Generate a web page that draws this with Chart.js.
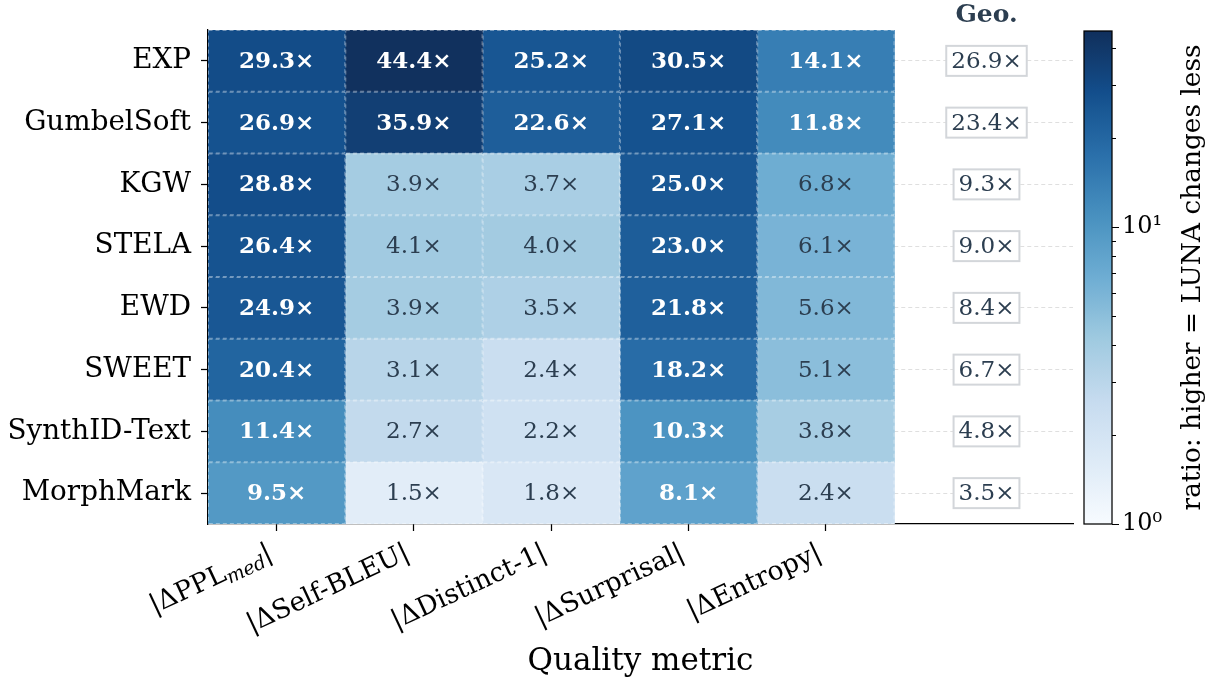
<!DOCTYPE html>
<html>
<head>
<meta charset="utf-8">
<script src="https://cdn.jsdelivr.net/npm/chart.js@4.4.1/dist/chart.umd.min.js"></script>
<style>
  html, body { margin: 0; padding: 0; background: #ffffff; width: 1215px; height: 686px; overflow: hidden; }
  #main { position: absolute; left: 0; top: 0; }
  #cbar { position: absolute; left: 1075px; top: 0; }
</style>
</head>
<body>
<canvas id="main" width="1215" height="686"></canvas>
<canvas id="cbar" width="140" height="686"></canvas>
<script>
// Watermark methods (rows) and quality metrics (columns)
const methods = ['EXP', 'GumbelSoft', 'KGW', 'STELA', 'EWD', 'SWEET', 'SynthID-Text', 'MorphMark'];
const metricLabels = [
  [{ t: '|ΔPPL' }, { t: 'med', sub: true }, { t: '|' }],
  [{ t: '|ΔSelf-BLEU|' }],
  [{ t: '|ΔDistinct-1|' }],
  [{ t: '|ΔSurprisal|' }],
  [{ t: '|ΔEntropy|' }]
];

// Ratio per metric, one value per method
const pplMed    = [29.3, 26.9, 28.8, 26.4, 24.9, 20.4, 11.4, 9.5];
const selfBleu  = [44.4, 35.9, 3.9, 4.1, 3.9, 3.1, 2.7, 1.5];
const distinct1 = [25.2, 22.6, 3.7, 4.0, 3.5, 2.4, 2.2, 1.8];
const surprisal = [30.5, 27.1, 25.0, 23.0, 21.8, 18.2, 10.3, 8.1];
const entropy   = [14.1, 11.8, 6.8, 6.1, 5.6, 5.1, 3.8, 2.4];
const geoMean   = [26.9, 23.4, 9.3, 9.0, 8.4, 6.7, 4.8, 3.5];

// Colour scale (log) and colorbar ticks
const colorMin = 1;
const colorMax = 45.7;
const colorbarTicks = [1, 2, 3, 4, 5, 6, 7, 8, 9, 10, 20, 30, 40];

const columns = [pplMed, selfBleu, distinct1, surprisal, entropy];
const geoColumnX = 5.17;
const boldAbove = 7.5;

const SERIF = "'DejaVu Serif', serif";
const DARK_TEXT = '#2c3e50';
const GRID = 'rgba(176,176,176,0.4)';

// matplotlib "Blues", darker end slightly muted
const blues = ['#f7fbff', '#deebf7', '#c6dbef', '#9ecae1', '#6baed6', '#4292c6', '#2171b5', '#08519c', '#08306b'];
function hexRgb(h) { return [1, 3, 5].map(i => parseInt(h.substr(i, 2), 16)); }
const bluesRgb = blues.map(hexRgb);
const MUTE = 0.24;
function bluesAt(t) {
  t = Math.max(0, Math.min(1, t));
  const p = t * (bluesRgb.length - 1);
  const i = Math.min(Math.floor(p), bluesRgb.length - 2);
  const f = p - i;
  const a = bluesRgb[i], b = bluesRgb[i + 1];
  const c = a.map((v, k) => v + (b[k] - v) * f);
  const lum = 0.3 * c[0] + 0.59 * c[1] + 0.11 * c[2];
  const mu = MUTE * t * t;
  const m = c.map(v => Math.round(v * (1 - mu) + lum * mu));
  return `rgb(${m[0]},${m[1]},${m[2]})`;
}
function norm(v) { return Math.log(v / colorMin) / Math.log(colorMax / colorMin); }

const datasets = columns.map((vals, c) => ({
  label: 'col' + c,
  data: vals.map(() => [c - 0.5, c + 0.5]),
  values: vals,
  backgroundColor: vals.map(v => bluesAt(norm(v))),
  borderWidth: 0,
  barPercentage: 1,
  categoryPercentage: 1,
  grouped: false
}));

// Cell edges, value labels, geo-mean column and rotated metric labels
const heatmapDecor = {
  id: 'heatmapDecor',
  afterDatasetsDraw(chart) {
    const ctx = chart.ctx;
    ctx.save();
    chart.data.datasets.forEach((ds, di) => {
      const meta = chart.getDatasetMeta(di);
      meta.data.forEach(el => {
        const p = el.getProps(['x', 'y', 'base', 'height'], true);
        const left = Math.min(p.x, p.base), w = Math.abs(p.x - p.base);
        ctx.strokeStyle = 'rgba(255,255,255,0.4)';
        ctx.lineWidth = 1;
        ctx.setLineDash([4, 3]);
        ctx.strokeRect(left + 0.5, p.y - p.height / 2 + 0.5, w - 1, p.height - 1);
      });
    });
    ctx.setLineDash([]);
    chart.data.datasets.forEach((ds, di) => {
      const meta = chart.getDatasetMeta(di);
      meta.data.forEach((el, ri) => {
        const p = el.getProps(['x', 'y', 'base'], true);
        const v = ds.values[ri];
        const strong = v >= boldAbove;
        ctx.font = (strong ? 'bold ' : '') + '23px ' + SERIF;
        ctx.fillStyle = strong ? '#ffffff' : DARK_TEXT;
        ctx.textAlign = 'center';
        ctx.textBaseline = 'middle';
        ctx.fillText(v.toFixed(1) + '×', (p.x + p.base) / 2, p.y + 1);
      });
    });
    ctx.restore();
  },
  afterDraw(chart) {
    const ctx = chart.ctx;
    const xs = chart.scales.x, ys = chart.scales.y;
    const area = chart.chartArea;
    ctx.save();
    // geo-mean column
    const gx = xs.getPixelForValue(geoColumnX);
    ctx.font = 'bold 25px ' + SERIF;
    ctx.fillStyle = DARK_TEXT;
    ctx.textAlign = 'center';
    ctx.textBaseline = 'middle';
    ctx.fillText('Geo.', gx, 15);
    ctx.font = '23px ' + SERIF;
    geoMean.forEach((v, i) => {
      const y = ys.getPixelForValue(i);
      const txt = v.toFixed(1) + '×';
      const w = ctx.measureText(txt).width + 10;
      const h = 30;
      ctx.fillStyle = '#ffffff';
      ctx.fillRect(gx - w / 2, y - h / 2, w, h);
      ctx.strokeStyle = '#d3d6da';
      ctx.lineWidth = 2;
      ctx.strokeRect(gx - w / 2, y - h / 2, w, h);
      ctx.fillStyle = DARK_TEXT;
      ctx.fillText(txt, gx, y + 1);
    });
    // rotated metric labels
    const size = 26.5;
    const ang = 25 * Math.PI / 180;
    metricLabels.forEach((parts, i) => {
      const tx = xs.getPixelForValue(i);
      const pieces = parts.map(pt => {
        const f = pt.sub ? `italic ${Math.round(size * 0.7)}px ${SERIF}` : `${size}px ${SERIF}`;
        ctx.font = f;
        return { t: pt.t, f, sub: pt.sub, w: ctx.measureText(pt.t).width };
      });
      const total = pieces.reduce((s, p) => s + p.w, 0);
      ctx.save();
      ctx.translate(tx - 12, area.bottom + 15);
      ctx.rotate(-ang);
      ctx.fillStyle = '#000';
      ctx.textAlign = 'left';
      ctx.textBaseline = 'alphabetic';
      let x = -total;
      const base = size * 0.8;
      pieces.forEach(p => {
        ctx.font = p.f;
        ctx.fillText(p.t, x, base + (p.sub ? size * 0.18 : 0));
        x += p.w;
      });
      ctx.restore();
    });
    // axis title
    ctx.font = '31px ' + SERIF;
    ctx.fillStyle = '#000';
    ctx.textAlign = 'center';
    ctx.textBaseline = 'middle';
    ctx.fillText('Quality metric', (area.left + area.right) / 2, 662);
    ctx.restore();
  }
};

new Chart(document.getElementById('main'), {
  type: 'bar',
  data: { labels: methods, datasets },
  options: {
    indexAxis: 'y',
    responsive: false,
    animation: false,
    devicePixelRatio: 1,
    layout: { padding: { left: 0, top: 30, right: 142, bottom: 0 } },
    plugins: { legend: { display: false }, tooltip: { enabled: false } },
    scales: {
      x: {
        type: 'linear',
        position: 'bottom',
        min: -0.5,
        max: 5.8,
        z: 1,
        afterBuildTicks: s => { s.ticks = metricLabels.map((_, i) => ({ value: i })); },
        afterFit: s => { s.height = 162; },
        ticks: { display: false },
        grid: { color: GRID, lineWidth: 1, drawTicks: true, tickLength: 7, tickColor: '#000', tickWidth: 1.25 },
        border: { display: true, color: '#000', width: 1.25, dash: [4, 3] }
      },
      y: {
        type: 'category',
        position: 'left',
        offset: true,
        z: 1,
        afterFit: s => { s.width = 208; },
        grid: { offset: false, color: GRID, lineWidth: 1, drawTicks: true, tickLength: 7, tickColor: '#000', tickWidth: 1.25 },
        border: { display: true, color: '#000', width: 1.25, dash: [4, 3] },
        ticks: { color: '#000', font: { family: SERIF, size: 27.8 }, padding: 10, autoSkip: false }
      }
    }
  },
  plugins: [heatmapDecor]
});

// Colorbar
const colorbarDecor = {
  id: 'colorbarDecor',
  beforeDatasetsDraw(chart) {
    const { ctx, chartArea: a } = chart;
    const ys = chart.scales.y;
    const yb = ys.getPixelForValue(colorMin), yt = ys.getPixelForValue(colorMax);
    const g = ctx.createLinearGradient(0, yb, 0, yt);
    for (let k = 0; k <= 32; k++) g.addColorStop(k / 32, bluesAt(k / 32));
    ctx.save();
    ctx.fillStyle = g;
    ctx.fillRect(a.left, yt, a.right - a.left, yb - yt);
    ctx.restore();
  },
  afterDraw(chart) {
    const { ctx, chartArea: a } = chart;
    const ys = chart.scales.y;
    ctx.save();
    ctx.strokeStyle = '#000';
    ctx.lineWidth = 1.25;
    ctx.strokeRect(a.left, a.top, a.right - a.left, a.bottom - a.top);
    ctx.lineWidth = 1;
    colorbarTicks.forEach(v => {
      const y = Math.round(ys.getPixelForValue(v)) + 0.5;
      const major = v === 1 || v === 10;
      ctx.beginPath();
      ctx.moveTo(a.right, y);
      ctx.lineTo(a.right + (major ? 7 : 4), y);
      ctx.stroke();
    });
    ctx.font = '26.4px ' + SERIF;
    ctx.fillStyle = '#000';
    ctx.textAlign = 'center';
    ctx.textBaseline = 'middle';
    ctx.translate(118, (a.top + a.bottom) / 2);
    ctx.rotate(-Math.PI / 2);
    ctx.fillText('ratio: higher = LUNA changes less', 0, 0);
    ctx.restore();
  }
};

new Chart(document.getElementById('cbar'), {
  type: 'bar',
  data: { labels: [''], datasets: [{ data: [] }] },
  options: {
    responsive: false,
    animation: false,
    devicePixelRatio: 1,
    layout: { padding: { left: 9, top: 31, right: 0, bottom: 162 } },
    plugins: { legend: { display: false }, tooltip: { enabled: false } },
    scales: {
      x: { display: false },
      y: {
        type: 'logarithmic',
        position: 'right',
        min: colorMin,
        max: colorMax,
        afterBuildTicks: s => { s.ticks = colorbarTicks.map(v => ({ value: v, major: v === 1 || v === 10 })); },
        afterFit: s => { s.width = 140 - 9 - 28; },
        grid: { drawOnChartArea: false, drawTicks: true, tickLength: 7, tickColor: 'rgba(0,0,0,0)' },
        border: { display: false },
        ticks: {
          autoSkip: false,
          color: '#000',
          padding: 3,
          font: { family: SERIF, size: 24 },
          callback: v => (v === 1 ? '10⁰' : v === 10 ? '10¹' : '')
        }
      }
    }
  },
  plugins: [colorbarDecor]
});
</script>
</body>
</html>
